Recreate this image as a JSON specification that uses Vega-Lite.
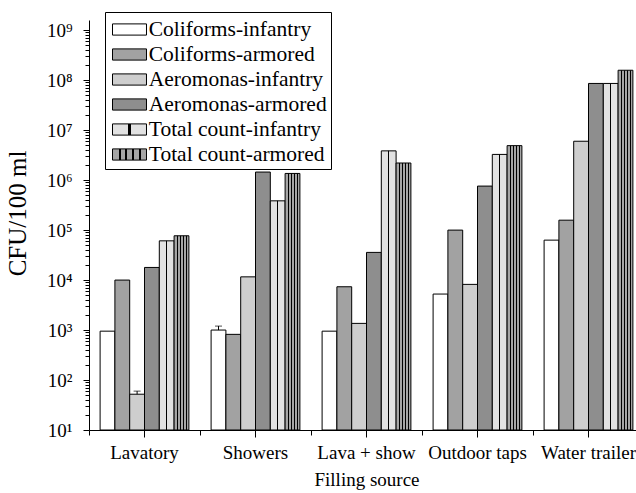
{
  "$schema": "https://vega.github.io/schema/vega-lite/v6.json",
  "width": 547,
  "height": 410,
  "autosize": {"type": "none"},
  "padding": {"left": 89, "top": 20, "right": 0, "bottom": 63},
  "background": "white",
  "config": {
    "view": {"stroke": null},
    "font": "Liberation Serif, Times New Roman, Times, serif",
    "axis": {"labelFont": "Liberation Serif, Times New Roman, Times, serif", "titleFont": "Liberation Serif, Times New Roman, Times, serif", "labelColor": "black", "titleColor": "black", "tickColor": "black", "domainColor": "black", "titleFontWeight": "normal", "grid": false}
  },
  "data": {"values": [
    {"source": "Lavatory", "series": "Coliforms-infantry", "value": 950},
    {"source": "Lavatory", "series": "Coliforms-armored", "value": 10000},
    {"source": "Lavatory", "series": "Aeromonas-infantry", "value": 52, "err": 60},
    {"source": "Lavatory", "series": "Aeromonas-armored", "value": 17900},
    {"source": "Lavatory", "series": "Total count-infantry", "value": 61000},
    {"source": "Lavatory", "series": "Total count-armored", "value": 77000},
    {"source": "Showers", "series": "Coliforms-infantry", "value": 1000, "err": 1200},
    {"source": "Showers", "series": "Coliforms-armored", "value": 820},
    {"source": "Showers", "series": "Aeromonas-infantry", "value": 11600},
    {"source": "Showers", "series": "Aeromonas-armored", "value": 1450000},
    {"source": "Showers", "series": "Total count-infantry", "value": 385000},
    {"source": "Showers", "series": "Total count-armored", "value": 1360000},
    {"source": "Lava + show", "series": "Coliforms-infantry", "value": 950},
    {"source": "Lava + show", "series": "Coliforms-armored", "value": 7350},
    {"source": "Lava + show", "series": "Aeromonas-infantry", "value": 1360},
    {"source": "Lava + show", "series": "Aeromonas-armored", "value": 35800},
    {"source": "Lava + show", "series": "Total count-infantry", "value": 3850000},
    {"source": "Lava + show", "series": "Total count-armored", "value": 2200000},
    {"source": "Outdoor taps", "series": "Coliforms-infantry", "value": 5250},
    {"source": "Outdoor taps", "series": "Coliforms-armored", "value": 100000},
    {"source": "Outdoor taps", "series": "Aeromonas-infantry", "value": 8200},
    {"source": "Outdoor taps", "series": "Aeromonas-armored", "value": 760000},
    {"source": "Outdoor taps", "series": "Total count-infantry", "value": 3270000},
    {"source": "Outdoor taps", "series": "Total count-armored", "value": 4900000},
    {"source": "Water trailer", "series": "Coliforms-infantry", "value": 63000},
    {"source": "Water trailer", "series": "Coliforms-armored", "value": 158000},
    {"source": "Water trailer", "series": "Aeromonas-infantry", "value": 6000000},
    {"source": "Water trailer", "series": "Aeromonas-armored", "value": 86000000},
    {"source": "Water trailer", "series": "Total count-infantry", "value": 86000000},
    {"source": "Water trailer", "series": "Total count-armored", "value": 158000000}
  ]},
  "layer": [
    {
      "mark": {"type": "bar", "stroke": "black", "strokeWidth": 1},
      "encoding": {
        "x": {
          "field": "source", "type": "nominal",
          "scale": {"domain": ["Lavatory", "Showers", "Lava + show", "Outdoor taps", "Water trailer"], "range": [0, 555], "paddingInner": 0.2, "paddingOuter": 0.1},
          "axis": {"orient": "bottom", "title": "Filling source", "titleFontSize": 19, "titlePadding": 8, "labelFontSize": 19, "labelAngle": 0, "labelPadding": 6, "tickSize": 7, "labelOverlap": false, "labelFlush": false, "labelBound": false}
        },
        "xOffset": {
          "field": "series", "type": "nominal",
          "scale": {"domain": ["Coliforms-infantry", "Coliforms-armored", "Aeromonas-infantry", "Aeromonas-armored", "Total count-infantry", "Total count-armored"], "paddingInner": 0, "paddingOuter": 0}
        },
        "y": {
          "field": "value", "type": "quantitative",
          "scale": {"type": "log", "domain": [10, 1600000000], "nice": false},
          "axis": {
            "orient": "left",
            "title": "CFU/100 ml", "titleFontSize": 25, "titleX": -72, "titleY": 193, "titleBaseline": "middle", "titleAlign": "center", "titleAngle": -90,
            "values": [10,100,1000,10000,100000,1000000,10000000,100000000,1000000000],
            "labelExpr": "'10' + ['⁰','¹','²','³','⁴','⁵','⁶','⁷','⁸','⁹'][round(log(datum.value)/LN10)]",
            "labelFontSize": 19, "labelPadding": 11, "labelOverlap": false, "labelFlush": false, "labelBound": false,
            "tickSize": 6
          }
        },
        "y2": {"datum": 10},
        "fill": {
          "field": "series", "type": "nominal",
          "scale": {
            "domain": ["Coliforms-infantry", "Coliforms-armored", "Aeromonas-infantry", "Aeromonas-armored", "Total count-infantry", "Total count-armored"],
            "range": [
              "#ffffff",
              "#a2a2a2",
              "#cecece",
              "#8e8e8e",
              {"expr": "{gradient: 'linear', x1: 0, y1: 0, x2: 1, y2: 0, stops: [{offset: 0, color: '#e2e2e2'}, {offset: 0.46, color: '#e2e2e2'}, {offset: 0.46, color: '#000000'}, {offset: 0.54, color: '#000000'}, {offset: 0.54, color: '#e2e2e2'}, {offset: 1, color: '#e2e2e2'}]}"},
              {"expr": "{gradient: 'linear', x1: 0, y1: 0, x2: 1, y2: 0, stops: [{offset: 0, color: '#a6a6a6'}, {offset: 0.18, color: '#a6a6a6'}, {offset: 0.18, color: '#000000'}, {offset: 0.24, color: '#000000'}, {offset: 0.24, color: '#a6a6a6'}, {offset: 0.38, color: '#a6a6a6'}, {offset: 0.38, color: '#000000'}, {offset: 0.44, color: '#000000'}, {offset: 0.44, color: '#a6a6a6'}, {offset: 0.58, color: '#a6a6a6'}, {offset: 0.58, color: '#000000'}, {offset: 0.64, color: '#000000'}, {offset: 0.64, color: '#a6a6a6'}, {offset: 0.78, color: '#a6a6a6'}, {offset: 0.78, color: '#000000'}, {offset: 0.84, color: '#000000'}, {offset: 0.84, color: '#a6a6a6'}, {offset: 1, color: '#a6a6a6'}]}"}
            ]
          },
          "legend": {
            "orient": "none", "legendX": 16, "legendY": -8, "padding": 4,
            "strokeColor": "black", "fillColor": "white", "title": null,
            "symbolType": "M-1.333,-0.44H1.333V0.44H-1.333Z", "symbolSize": 650, "symbolOffset": 7,
            "symbolStrokeColor": "black", "symbolStrokeWidth": 1,
            "labelFont": "Liberation Serif, Times New Roman, Times, serif", "labelFontSize": 21.5, "labelColor": "black",
            "labelOffset": 5.75, "rowPadding": 1, "labelLimit": 400
          }
        }
      }
    },
    {
      "transform": [{"filter": "isValid(datum.err)"}],
      "mark": {"type": "rule", "stroke": "black", "strokeWidth": 1},
      "encoding": {
        "x": {"field": "source", "type": "nominal", "axis": {"orient": "bottom", "title": null, "labels": false, "domain": false, "bandPosition": -0.125, "tickSize": 5}},
        "xOffset": {"field": "series", "type": "nominal"},
        "y": {"field": "value", "type": "quantitative", "axis": {
          "orient": "left", "title": null, "labels": false, "domain": false, "tickSize": 4,
          "values": [20,30,40,50,60,70,80,90,200,300,400,500,600,700,800,900,2000,3000,4000,5000,6000,7000,8000,9000,20000,30000,40000,50000,60000,70000,80000,90000,200000,300000,400000,500000,600000,700000,800000,900000,2000000,3000000,4000000,5000000,6000000,7000000,8000000,9000000,20000000,30000000,40000000,50000000,60000000,70000000,80000000,90000000,200000000,300000000,400000000,500000000,600000000,700000000,800000000,900000000]
        }},
        "y2": {"field": "err"}
      }
    },
    {
      "transform": [{"filter": "isValid(datum.err)"}],
      "mark": {"type": "tick", "orient": "horizontal", "size": 7, "thickness": 1, "color": "black"},
      "encoding": {
        "x": {"field": "source", "type": "nominal", "axis": null},
        "xOffset": {"field": "series", "type": "nominal"},
        "y": {"field": "err", "type": "quantitative", "axis": null}
      }
    }
  ],
  "resolve": {"axis": {"x": "independent", "y": "independent"}}
}
